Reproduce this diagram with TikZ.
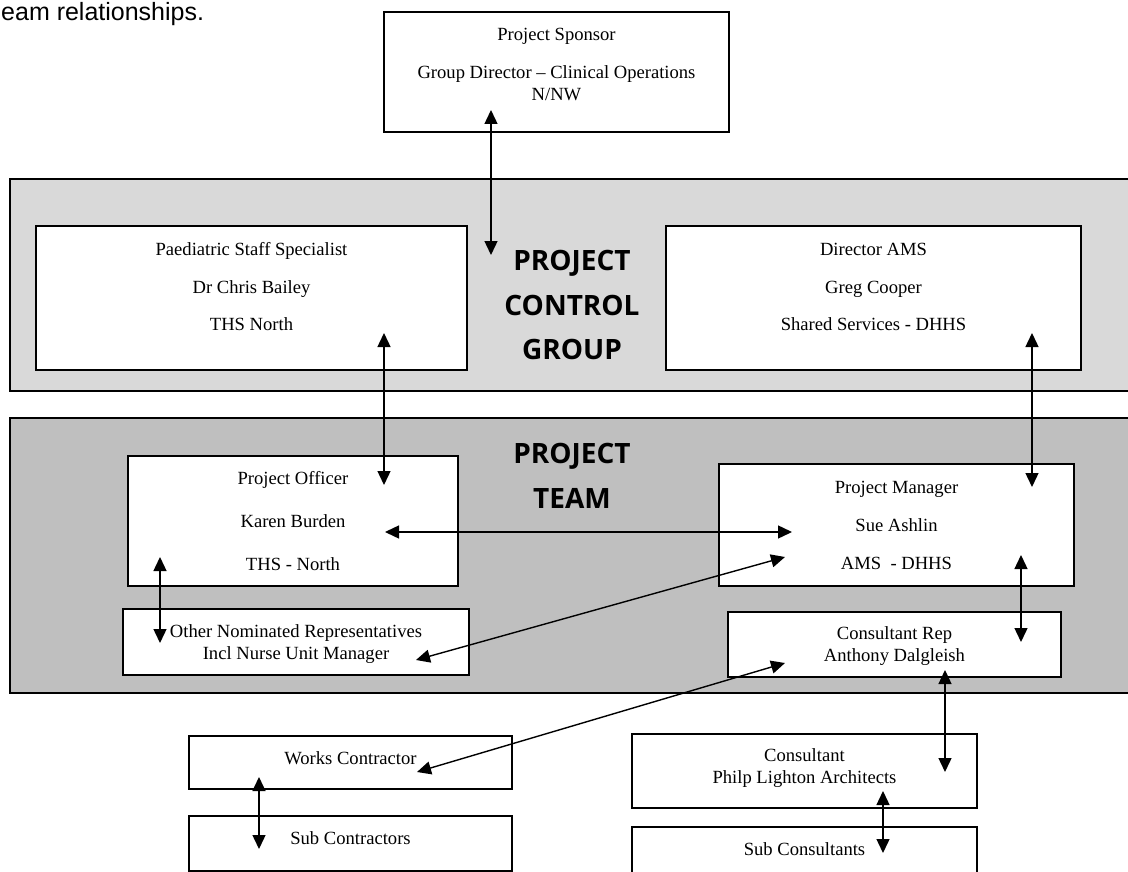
\documentclass[tikz,border=0pt]{standalone}
\usepackage{fontspec}
\setmainfont{Liberation Serif}
\newfontfamily\capfont{Liberation Sans}
\newfontfamily\headfont{Open Sans}
\usetikzlibrary{arrows.meta}
\definecolor{ctrlgray}{HTML}{D9D9D9}
\definecolor{teamgray}{HTML}{BFBFBF}
\tikzset{
  band/.style={draw, line width=1.4pt, inner sep=0pt},
  frame/.style={draw, line width=1.6pt, fill=white, inner sep=0pt},
  txt/.style={font=\fontsize{18.6}{21.5}\selectfont, align=center, inner sep=0pt},
  head/.style={font=\headfont\bfseries\fontsize{28}{44.5}\selectfont, align=center, inner sep=0pt},
  link/.style={line width=1.4pt, {Triangle[length=14pt,width=13pt]}-{Triangle[length=14pt,width=13pt]}},
}
\begin{document}
\begin{tikzpicture}[x=1pt,y=-1pt]
  \useasboundingbox (0,0) rectangle (1128,872);
  \node[font=\capfont\fontsize{25}{30}\selectfont, anchor=base west, inner sep=0pt] (caption) at (1,21) {eam relationships.};

  % the two groups
  \node[band, fill=ctrlgray, minimum width=1130pt, minimum height=212pt] (ctrl) at (575,285) {};
  \node[band, fill=teamgray, minimum width=1130pt, minimum height=275pt] (team) at (575,555.5) {};
  \node[head] (ctrlname) at (572,305) {PROJECT\\CONTROL\\GROUP};
  \node[head] (teamname) at (572,476) {PROJECT\\TEAM};

  % boxes
  \node[frame, minimum width=345pt, minimum height=120pt] (sponsor) at (556.5,72) {};
  \node[frame, minimum width=431pt, minimum height=144pt] (paed) at (251.5,298) {};
  \node[frame, minimum width=415pt, minimum height=144pt] (dir) at (873.5,298) {};
  \node[frame, minimum width=330pt, minimum height=130pt] (officer) at (293,521) {};
  \node[frame, minimum width=355pt, minimum height=122pt] (manager) at (896.5,525) {};
  \node[frame, minimum width=346pt, minimum height=66pt] (others) at (296,642) {};
  \node[frame, minimum width=333pt, minimum height=65pt] (rep) at (894.5,644.5) {};
  \node[frame, minimum width=323pt, minimum height=53pt] (works) at (350.5,762.5) {};
  \node[frame, minimum width=323pt, minimum height=55pt] (subcon) at (350.5,843.5) {};
  \node[frame, minimum width=345pt, minimum height=74pt] (consult) at (804.5,771) {};
  \node[frame, minimum width=345pt, minimum height=63pt] (subcons) at (804.5,858.5) {};

  % texts
  \node[txt] (sponsortxt) at (556.5,64) {Project Sponsor\\[17pt]Group Director -- Clinical Operations\\N/NW};
  \node[txt] (paedtxt) at (251.5,287) {Paediatric Staff Specialist\\[16pt]Dr Chris Bailey\\[16pt]THS North};
  \node[txt] (dirtxt) at (873.5,287) {Director AMS\\[16pt]Greg Cooper\\[16pt]Shared Services - DHHS};
  \node[txt] (officertxt) at (293,521.5) {Project Officer\\[21.5pt]Karen Burden\\[21.5pt]THS - North};
  \node[txt] (managertxt) at (896.5,525.5) {Project Manager\\[16.5pt]Sue Ashlin\\[16.5pt]AMS \ - DHHS};
  \node[txt] (otherstxt) at (296,644) {Other Nominated Representatives\\Incl Nurse Unit Manager};
  \node[txt] (reptxt) at (894.5,646) {Consultant Rep\\Anthony Dalgleish};
  \node[txt] (workstxt) at (350.5,758) {Works Contractor};
  \node[txt] (subcontxt) at (350.5,838) {Sub Contractors};
  \node[txt] (consulttxt) at (804.5,768) {Consultant\\Philp Lighton Architects};
  \node[txt] (subconstxt) at (804.5,849) {Sub Consultants};

  % arrow ends
  \coordinate (sponsorEnd) at (491,110);
  \coordinate (ctrlEnd) at (491,255);
  \coordinate (paedEnd) at (384,333);
  \coordinate (officerTop) at (384,485);
  \coordinate (dirEnd) at (1032,333);
  \coordinate (managerTop) at (1032,487);
  \coordinate (officerMid) at (385,532);
  \coordinate (managerMid) at (792,532);
  \coordinate (officerLow) at (160,557);
  \coordinate (othersEnd) at (160,643);
  \coordinate (othersMid) at (416,660);
  \coordinate (managerLow) at (785,557);
  \coordinate (managerRight) at (1021,555);
  \coordinate (repTop) at (1021,642);
  \coordinate (repLeft) at (785,663);
  \coordinate (worksMid) at (417,772);
  \coordinate (repLow) at (945,670);
  \coordinate (consultTop) at (945,772);
  \coordinate (worksLow) at (259,777);
  \coordinate (subconEnd) at (259,849);
  \coordinate (consultLow) at (883,791);
  \coordinate (subconsEnd) at (883,853);

  % connectors
  \draw[link] (sponsorEnd) -- (ctrlEnd);
  \draw[link] (paedEnd) -- (officerTop);
  \draw[link] (dirEnd) -- (managerTop);
  \draw[link] (officerMid) -- (managerMid);
  \draw[link] (officerLow) -- (othersEnd);
  \draw[link] (othersMid) -- (managerLow);
  \draw[link] (managerRight) -- (repTop);
  \draw[link] (repLeft) -- (worksMid);
  \draw[link] (repLow) -- (consultTop);
  \draw[link] (worksLow) -- (subconEnd);
  \draw[link] (consultLow) -- (subconsEnd);
\end{tikzpicture}
\end{document}
